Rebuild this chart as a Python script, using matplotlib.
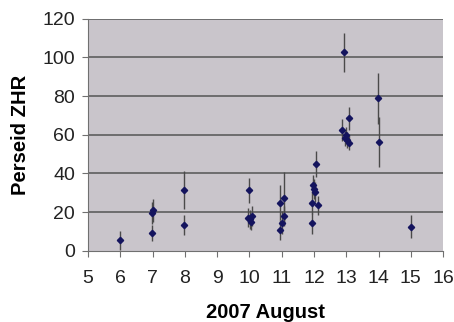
import matplotlib
matplotlib.use('Agg')
import matplotlib.pyplot as plt

day = [5.98, 6.98, 7.00, 6.97, 7.98, 7.97,
       9.99, 9.96, 10.03, 10.08, 10.06,
       10.95, 11.06, 11.08, 11.01, 10.95,
       12.05, 11.98, 12.00, 12.02, 11.93, 12.13, 11.93,
       12.92, 13.07, 12.88, 12.98, 12.95, 13.02, 13.07,
       13.97, 14.00, 15.00]
zhr = [5.5, 19.5, 21.0, 9.3, 31.4, 13.3,
       31.4, 17.2, 16.2, 18.0, 15.0,
       24.8, 27.1, 18.0, 14.5, 10.7,
       44.9, 34.0, 32.0, 30.5, 24.8, 23.6, 14.2,
       102.6, 68.5, 62.4, 59.9, 58.1, 57.3, 55.9,
       78.8, 56.4, 12.4]
err = [5, 5.5, 6, 4.3, 10, 5,
       6.5, 5, 5, 5, 4,
       9, 13.8, 5, 6, 5,
       6.5, 5, 5, 5, 6, 5, 5.5,
       10, 6, 5.5, 4, 4, 4, 4,
       13, 13, 6]

xticks = list(range(5, 17))
yticks = list(range(0, 121, 20))

plt.rcParams['font.family'] = ['Liberation Sans', 'DejaVu Sans']

fig = plt.figure(figsize=(4.54, 3.22), dpi=100)
ax = fig.add_axes([0.194, 0.221, 0.782, 0.721])
ax.set_facecolor('#c9c5cb')

for y in yticks[1:]:
    ax.axhline(y, color='#5e5e5e', lw=1.2, zorder=1)

ax.errorbar(day, zhr, yerr=err, fmt='D', ms=3.2, color='#14145e',
            ecolor='#4a4a4a', elinewidth=1, capsize=0, zorder=3)

ax.set_xlim(5, 16)
ax.set_ylim(0, 120)
ax.set_xticks(xticks)
ax.set_yticks(yticks)
for s in ['top', 'right']:
    ax.spines[s].set_visible(False)
for s in ['left', 'bottom']:
    ax.spines[s].set_color('#707070')
ax.tick_params(axis='both', colors='#707070', labelcolor='#222222',
               labelsize=14, length=4.5, direction='out')
ax.tick_params(axis='x', pad=9)
ax.tick_params(axis='y', pad=5)

ax.set_xlabel('2007 August', fontsize=14.5, fontweight='bold', labelpad=12)
ax.set_ylabel('Perseid ZHR', fontsize=14.5, fontweight='bold', labelpad=9)

fig.savefig('out.png', dpi=100)
